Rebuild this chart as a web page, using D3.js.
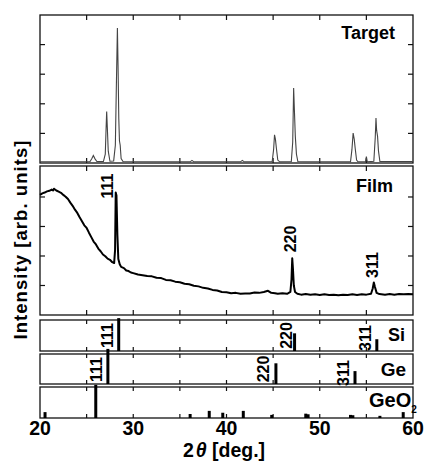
<!DOCTYPE html>
<html><head><meta charset="utf-8">
<script src="https://cdn.jsdelivr.net/npm/d3@7"></script>
<style>body{margin:0;background:#fff}svg{display:block}</style>
</head><body>
<svg id="c" width="425" height="463"></svg>
<script>
// ---------- data ----------
const xTickLabels = [20, 30, 40, 50, 60];
const xMinorTicks = [25, 30, 35, 40, 45, 50, 55];
const yTicks = [1, 2, 3, 4];

// Target pattern: [2theta, intensity]
const targetPattern = [
  [20.0,0.04],[25.35,0.04],[25.55,0.14],[25.72,0.25],[25.9,0.14],[26.1,0.05],[26.8,0.05],
  [27.0,0.3],[27.08,1.1],[27.15,1.74],[27.22,1.2],[27.32,0.4],[27.5,0.06],[27.9,0.07],
  [28.08,0.6],[28.2,2.8],[28.3,4.56],[28.37,3.3],[28.45,1.5],[28.52,0.75],[28.6,0.6],
  [28.7,0.15],[28.9,0.05],[36.1,0.04],[36.3,0.09],[36.5,0.04],[41.5,0.04],[41.7,0.09],
  [41.9,0.04],[44.9,0.05],[45.05,0.45],[45.15,0.95],[45.25,0.8],[45.35,0.5],[45.5,0.1],
  [45.7,0.04],[46.95,0.05],[47.1,0.7],[47.2,2.53],[47.28,1.8],[47.38,0.9],[47.5,0.3],
  [47.65,0.05],[53.3,0.04],[53.45,0.45],[53.58,1.01],[53.7,0.8],[53.8,0.5],[53.95,0.1],
  [54.1,0.04],[54.9,0.04],[55.0,0.22],[55.1,0.04],[55.8,0.06],[55.95,0.85],[56.03,1.52],
  [56.1,1.1],[56.2,0.9],[56.3,0.4],[56.45,0.05],[60.0,0.05]
];

// Film pattern: [2theta, intensity]
const filmPattern = [
  [20.0,4.07],[20.25,4.12],[20.5,4.15],[20.75,4.19],[21.0,4.21],[21.25,4.25],[21.4,4.22],[21.5,4.28],
  [21.75,4.22],[22.0,4.18],[22.25,4.14],[22.5,4.07],[22.75,4.01],[23.0,3.93],[23.25,3.81],
  [23.5,3.70],[23.75,3.57],[24.0,3.46],[24.25,3.31],[24.5,3.18],[24.75,3.04],[25.0,2.95],
  [25.25,2.79],[25.5,2.64],[25.75,2.49],[26.0,2.39],[26.25,2.25],[26.5,2.16],[26.75,2.05],
  [27.0,1.99],[27.25,1.91],[27.5,1.87],[27.75,1.79],[27.95,1.76],[28.05,2.2],[28.12,4.15],
  [28.2,4.05],[28.3,2.7],[28.4,1.9],[28.55,1.72],[28.7,1.63],[29.0,1.59],[29.25,1.51],[29.5,1.49],
  [29.75,1.44],[30.0,1.42],[30.5,1.37],[31.0,1.35],[31.5,1.32],[32.0,1.31],[32.5,1.26],[33.0,1.25],
  [33.5,1.19],[34.0,1.18],[34.5,1.13],[35.0,1.11],[35.5,1.06],[36.0,1.04],[36.5,0.99],
  [37.0,0.97],[37.5,0.92],[38.0,0.90],[38.5,0.85],[39.0,0.83],[39.5,0.78],[40.0,0.77],
  [40.5,0.74],[41.0,0.75],[41.5,0.72],[42.0,0.73],[42.5,0.73],[43.0,0.76],[43.5,0.75],
  [44.0,0.78],[44.45,0.82],[44.8,0.75],[45.2,0.74],[45.5,0.72],[46.0,0.74],[46.5,0.72],[46.85,0.78],
  [46.97,1.2],[47.05,1.92],[47.12,1.6],[47.22,1.0],[47.35,0.78],[47.6,0.72],[48.0,0.69],
  [48.5,0.71],[49.0,0.69],[49.5,0.70],[50.0,0.68],[50.5,0.70],[51.0,0.68],[51.5,0.69],[52.0,0.67],
  [52.5,0.69],[53.0,0.68],[53.5,0.70],[54.0,0.68],[54.5,0.70],[55.0,0.69],
  [55.5,0.72],[55.68,0.9],[55.8,1.10],[55.92,0.95],[56.1,0.75],[56.4,0.71],[57.0,0.69],
  [57.5,0.71],[58.0,0.69],[58.5,0.71],[59.0,0.70],[59.5,0.71],[60.0,0.70]
];
const filmPeakLabels = ["111", "220", "311"];
const filmPeakAngles = [28.12, 47.05, 55.8];

// Reference stick patterns (relative heights, 1 = panel height)
const siAngles = [28.44, 47.30, 56.12];
const siHeights = [1.06, 0.57, 0.38];
const geAngles = [27.28, 45.30, 53.78];
const geHeights = [1.17, 0.69, 0.43];
const hklLabels = ["111", "220", "311"];
const geo2Angles = [20.54, 25.98, 36.1, 38.15, 39.6, 41.8, 44.85, 48.5, 48.75, 53.3, 53.55, 56.45, 58.95];
const geo2Heights = [0.19, 1.07, 0.13, 0.23, 0.17, 0.23, 0.10, 0.14, 0.12, 0.10, 0.09, 0.07, 0.19];

// ---------- layout ----------
const svg = d3.select("#c");
const FONT = "'Liberation Sans', Arial, Helvetica, sans-serif";
const x = d3.scaleLinear().domain([20, 60]).range([40, 413]);

const panels = {
  target: {top: 15, bottom: 163, ymax: 5},
  film:   {top: 166, bottom: 315, ymax: 5.05},
  si:     {top: 320, bottom: 351},
  ge:     {top: 354, bottom: 384},
  geo:    {top: 387, bottom: 418}
};

function frame(p, tickLen, withY) {
  const g = svg.append("g");
  g.append("rect").attr("x", x(20)).attr("y", p.top)
    .attr("width", x(60) - x(20)).attr("height", p.bottom - p.top)
    .attr("fill", "none").attr("stroke", "#111").attr("stroke-width", 1.3);
  xMinorTicks.forEach(v => {
    g.append("line").attr("x1", x(v)).attr("x2", x(v)).attr("y1", p.top).attr("y2", p.top + tickLen)
      .attr("stroke", "#111").attr("stroke-width", 1.2);
    g.append("line").attr("x1", x(v)).attr("x2", x(v)).attr("y1", p.bottom).attr("y2", p.bottom - tickLen)
      .attr("stroke", "#111").attr("stroke-width", 1.2);
  });
  if (withY) {
    yTicks.forEach(v => {
      const yy = p.y(v);
      g.append("line").attr("x1", x(20)).attr("x2", x(20) + tickLen).attr("y1", yy).attr("y2", yy)
        .attr("stroke", "#111").attr("stroke-width", 1.2);
      g.append("line").attr("x1", x(60)).attr("x2", x(60) - tickLen).attr("y1", yy).attr("y2", yy)
        .attr("stroke", "#111").attr("stroke-width", 1.2);
    });
  }
}

// Target
const pt = panels.target;
pt.y = d3.scaleLinear().domain([0, pt.ymax]).range([pt.bottom, pt.top]);
frame(pt, 5, true);
svg.append("path").datum(targetPattern)
  .attr("d", d3.line().x(d => x(d[0])).y(d => pt.y(d[1])))
  .attr("fill", "none").attr("stroke", "#444").attr("stroke-width", 1.1);
svg.append("text").attr("x", 395).attr("y", 39).attr("text-anchor", "end")
  .attr("font-family", FONT).attr("font-weight", "bold").attr("font-size", 18).text("Target");

// Film
const pf = panels.film;
pf.y = d3.scaleLinear().domain([0, pf.ymax]).range([pf.bottom, pf.top]);
frame(pf, 5, true);
svg.append("path").datum(filmPattern)
  .attr("d", d3.line().x(d => x(d[0])).y(d => pf.y(d[1])))
  .attr("fill", "none").attr("stroke", "#000").attr("stroke-width", 2).attr("stroke-linejoin", "round");
svg.append("text").attr("x", 393).attr("y", 192).attr("text-anchor", "end")
  .attr("font-family", FONT).attr("font-weight", "bold").attr("font-size", 18).text("Film");

function vlabel(txt, cx, cy, size) {
  svg.append("text").attr("transform", `translate(${cx},${cy}) rotate(-90)`)
    .attr("text-anchor", "middle").attr("dominant-baseline", "central")
    .attr("font-family", FONT).attr("font-weight", "bold").attr("font-size", size).text(txt);
}
// film peak labels
const filmLabelPos = [[-8, 186], [-1.5, 239], [-1, 265]];
filmPeakLabels.forEach((t, i) => {
  vlabel(t, x(filmPeakAngles[i]) + filmLabelPos[i][0], filmLabelPos[i][1], 16);
});

// stick panels
function sticks(p, angles, heights) {
  const y = d3.scaleLinear().domain([0, 1]).range([p.bottom, p.top]);
  svg.append("g").selectAll("line").data(angles).join("line")
    .attr("x1", d => x(d)).attr("x2", d => x(d))
    .attr("y1", p.bottom).attr("y2", (d, i) => y(heights[i]))
    .attr("stroke", "#000").attr("stroke-width", 3);
}
const ps = panels.si, pg = panels.ge, po = panels.geo;
frame(ps, 4, false); frame(pg, 4, false); frame(po, 4, false);
sticks(ps, siAngles, siHeights);
sticks(pg, geAngles, geHeights);
sticks(po, geo2Angles, geo2Heights);

const siLabelPos = [[-11, 335.5], [-8, 335.5], [-11, 338]];
hklLabels.forEach((t, i) => vlabel(t, x(siAngles[i]) + siLabelPos[i][0], siLabelPos[i][1], 16));
const geLabelPos = [[-11, 369.5], [-12.5, 369], [-11.5, 373]];
hklLabels.forEach((t, i) => vlabel(t, x(geAngles[i]) + geLabelPos[i][0], geLabelPos[i][1], 16));

svg.append("text").attr("x", 405).attr("y", 341).attr("text-anchor", "end")
  .attr("font-family", FONT).attr("font-weight", "bold").attr("font-size", 18).text("Si");
svg.append("text").attr("x", 406).attr("y", 376).attr("text-anchor", "end")
  .attr("font-family", FONT).attr("font-weight", "bold").attr("font-size", 19).text("Ge");
const geoT = svg.append("text").attr("x", 369).attr("y", 407)
  .attr("font-family", FONT).attr("font-weight", "bold").attr("font-size", 20);
geoT.append("tspan").text("GeO");
geoT.append("tspan").attr("font-size", 10).attr("dy", 6).text("2");

// x tick labels
svg.append("g").selectAll("text").data(xTickLabels).join("text")
  .attr("x", d => x(d)).attr("y", 435).attr("text-anchor", "middle")
  .attr("font-family", FONT).attr("font-weight", "bold").attr("font-size", 19.5).text(d => d);

// axis titles
const xt = svg.append("text").attr("x", 224).attr("y", 457).attr("text-anchor", "middle")
  .attr("font-family", FONT).attr("font-weight", "bold").attr("font-size", 19.5);
xt.append("tspan").text("2");
xt.append("tspan").attr("font-style", "italic").attr("dx", 2).text("θ");
xt.append("tspan").text(" [deg.]");

svg.append("text").attr("transform", "translate(20,240) rotate(-90)")
  .attr("text-anchor", "middle").attr("dominant-baseline", "central")
  .attr("font-family", FONT).attr("font-weight", "bold").attr("font-size", 18.5)
  .attr("textLength", 199).attr("lengthAdjust", "spacing")
  .text("Intensity [arb. units]");
</script>
</body></html>
